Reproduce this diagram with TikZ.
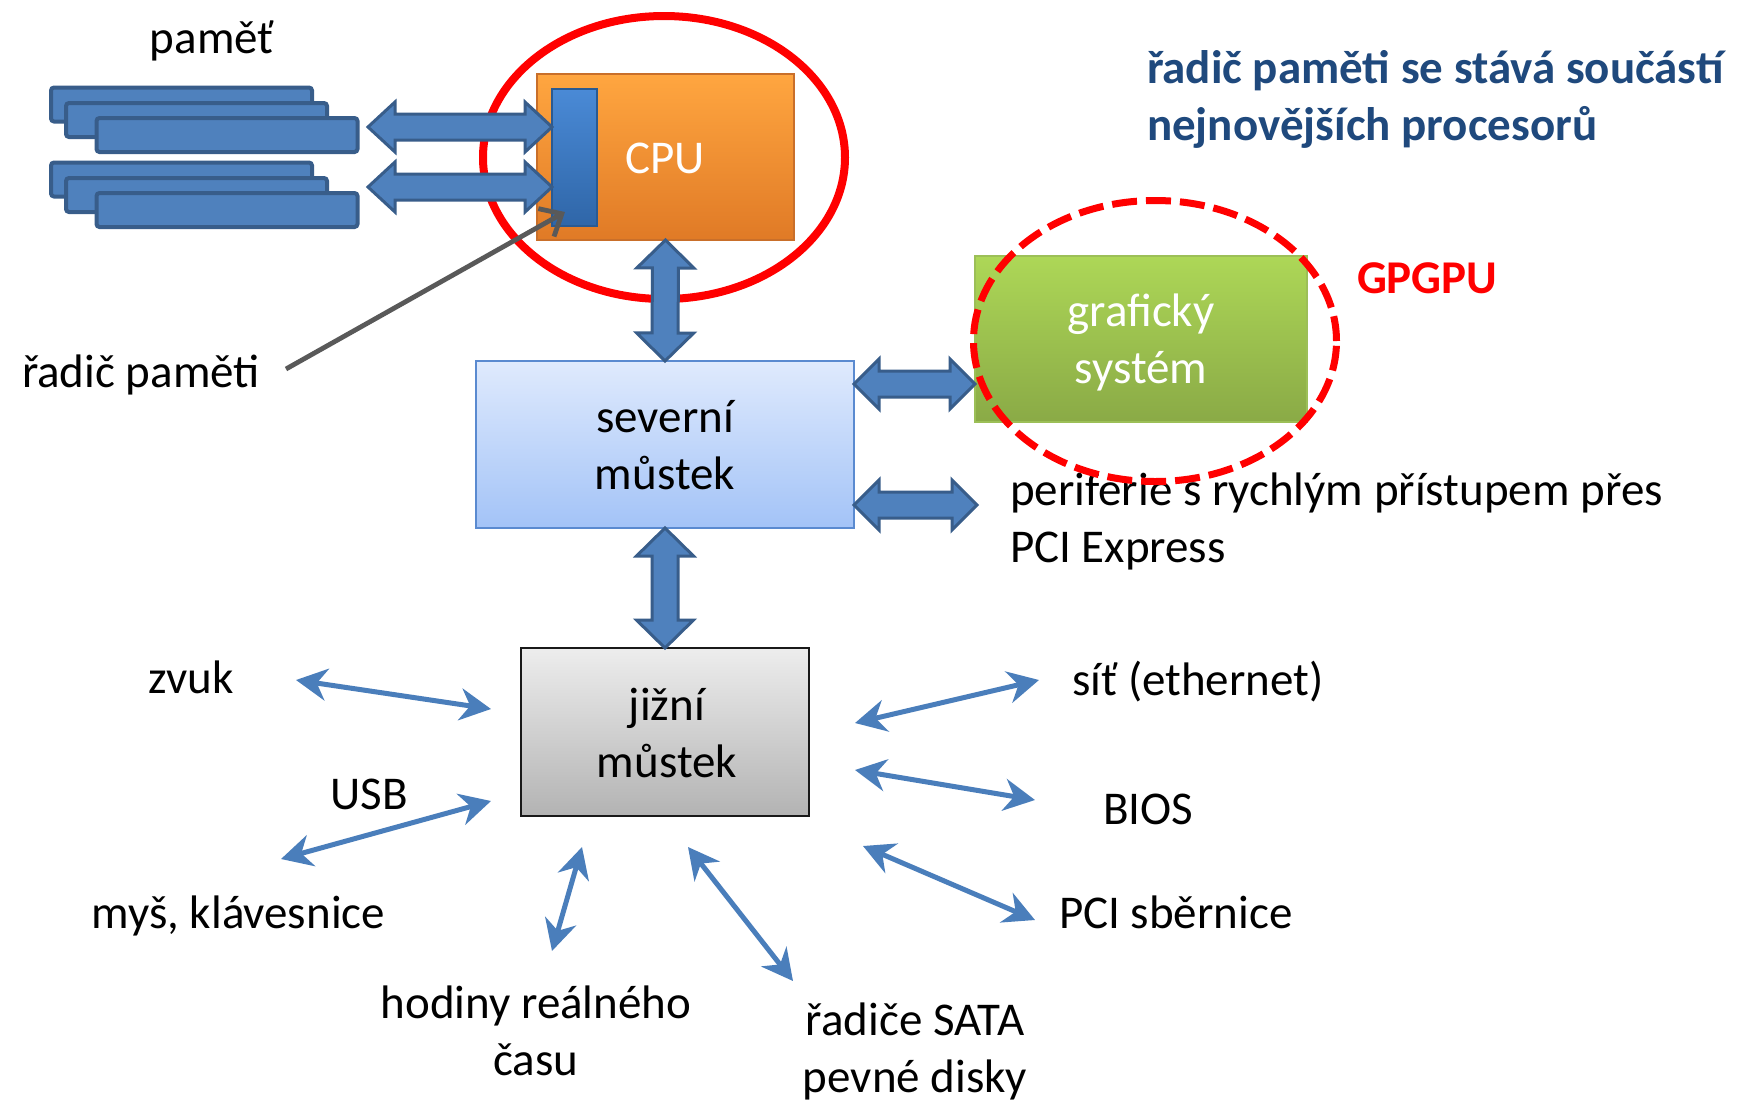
\documentclass[tikz,border=0pt]{standalone}
\usepackage{fontspec}
\setmainfont{Carlito}
\usetikzlibrary{arrows.meta,calc,shapes.geometric}
\definecolor{arrblue}{HTML}{4F81BD}
\definecolor{bordblue}{HTML}{385D8A}
\definecolor{thinblue}{HTML}{4A7EBB}
\definecolor{topblue}{HTML}{1F497D}
\definecolor{cputop}{HTML}{FFA640}
\definecolor{cpubot}{HTML}{E07A26}
\definecolor{cpuborder}{HTML}{C96F2A}
\definecolor{bartop}{HTML}{4A8AD6}
\definecolor{barbot}{HTML}{2F66A8}
\definecolor{barborder}{HTML}{2A5A92}
\definecolor{nbtop}{HTML}{DFEAFD}
\definecolor{nbbot}{HTML}{A3C3F7}
\definecolor{nbborder}{HTML}{5A8AD0}
\definecolor{sbtop}{HTML}{EDEDED}
\definecolor{sbbot}{HTML}{B3B3B3}
\definecolor{gstop}{HTML}{ADD757}
\definecolor{gsbot}{HTML}{8AAA46}
\definecolor{gsborder}{HTML}{9CBF57}
\definecolor{ptrgray}{HTML}{595959}
\newcommand{\bigf}{\fontsize{23.5pt}{28.5pt}\selectfont}
\newcommand{\myblk}[5]{%
 \path[blk] (#1)
 -- ($($(#1)!#3!(#2)$)!#4!90:(#2)$)
 -- ($($(#1)!#3!(#2)$)!#5!90:(#2)$)
 -- ($($(#2)!#3!(#1)$)!#5!-90:(#1)$)
 -- ($($(#2)!#3!(#1)$)!#4!-90:(#1)$)
 -- (#2)
 -- ($($(#2)!#3!(#1)$)!#4!90:(#1)$)
 -- ($($(#2)!#3!(#1)$)!#5!90:(#1)$)
 -- ($($(#1)!#3!(#2)$)!#5!-90:(#2)$)
 -- ($($(#1)!#3!(#2)$)!#4!-90:(#2)$)
 -- cycle;}
\begin{document}
\begin{tikzpicture}[x=0.5pt,y=-0.5pt,
  txt/.style={font=\bigf, inner sep=0pt, outer sep=0pt},
  btxt/.style={font=\bigf\bfseries, inner sep=0pt, outer sep=0pt},
  memmod/.style={draw=bordblue, fill=arrblue, line width=2pt, rounded corners=1.5pt, inner sep=0pt, minimum width=130.5pt, minimum height=17pt},
  blk/.style={draw=bordblue, fill=arrblue, line width=1.5pt, line join=miter},
  thinarr/.style={draw=thinblue, line width=2.5pt,
    {Stealth[length=15.5pt,width=16pt,inset=5pt]}-{Stealth[length=15.5pt,width=16pt,inset=5pt]}},
  ring/.style={ellipse, draw=red, inner sep=0pt},
  boxbase/.style={rectangle, inner sep=0pt, outer sep=0pt}
]
\useasboundingbox (0,0) rectangle (1742,1099);
\fill[white] (0,0) rectangle (1742,1099);

% red ring around CPU
\node[ring, line width=4pt, minimum width=181pt, minimum height=141.5pt] (ring1) at (664,157.5) {};

% memory modules
\node[memmod] (m1a) at (181.5,104.5) {};
\node[memmod] (m1b) at (196.5,120) {};
\node[memmod] (m1c) at (227,135) {};
\node[memmod] (m2a) at (181.5,179.5) {};
\node[memmod] (m2b) at (196.5,195) {};
\node[memmod] (m2c) at (227,210) {};

% CPU and controller bar
\node[boxbase, top color=cputop, bottom color=cpubot, draw=cpuborder, line width=0.6pt,
      minimum width=128.5pt, minimum height=83pt] (cpu) at (665.5,157) {};
\node[boxbase, top color=bartop, bottom color=barbot, draw=barborder, line width=0.8pt,
      minimum width=22.5pt, minimum height=68.5pt] (bar) at (574.5,157.5) {};

% bridges and graphics
\node[boxbase, top color=nbtop, bottom color=nbbot, draw=nbborder, line width=0.9pt,
      minimum width=189pt, minimum height=83.5pt] (nb) at (665,444.5) {};
\node[boxbase, top color=sbtop, bottom color=sbbot, draw=black!90, line width=1pt,
      minimum width=144pt, minimum height=84pt] (sb) at (665,732) {};
\node[boxbase, top color=gstop, bottom color=gsbot, draw=gsborder, line width=0.6pt,
      minimum width=166pt, minimum height=83pt] (gs) at (1141,339) {};

% block arrow end points
\coordinate (m1l) at (368,127);
\coordinate (m1r) at (bar.west |- m1l);
\coordinate (m2l) at (368,187);
\coordinate (m2r) at (bar.west |- m2l);
\coordinate (gsl) at (nb.east |- 0,384);
\coordinate (gsr) at (gs.west |- 0,384);
\coordinate (pel) at (nb.east |- 0,505);
\coordinate (per) at (977,505);

\myblk{m1l}{m1r}{13.5pt}{12.5pt}{6.5pt}
\myblk{m2l}{m2r}{13.5pt}{12.5pt}{6.5pt}
\myblk{cpu.south}{nb.north}{14pt}{14.25pt}{6.5pt}
\myblk{nb.south}{sb.north}{14pt}{14.25pt}{6.5pt}
\myblk{gsl}{gsr}{12.5pt}{12.5pt}{6.5pt}
\myblk{pel}{per}{12.5pt}{12.5pt}{6.5pt}

% pointer to memory controller
\coordinate (ptrs) at (286,369);
\coordinate (ptre) at (565,212);
\draw[ptrgray, line width=2.4pt, -{Straight Barb[length=9pt,width=16pt,line width=2.4pt]}] (ptrs) -- (ptre);

% thin arrows from south bridge
\coordinate (zv1) at (296,680);  \coordinate (zv2) at (491,709);
\coordinate (us1) at (491,801);  \coordinate (us2) at (281,859);
\coordinate (ho1) at (582,847);  \coordinate (ho2) at (552,951);
\coordinate (sa1) at (688,847);  \coordinate (sa2) at (793,981);
\coordinate (si1) at (855,723);  \coordinate (si2) at (1039,680);
\coordinate (bi1) at (855,770);  \coordinate (bi2) at (1035,800);
\coordinate (pc1) at (863,846);  \coordinate (pc2) at (1035,920);
\draw[thinarr] (zv1) -- (zv2);
\draw[thinarr] (us1) -- (us2);
\draw[thinarr] (ho1) -- (ho2);
\draw[thinarr] (sa1) -- (sa2);
\draw[thinarr] (si1) -- (si2);
\draw[thinarr] (bi1) -- (bi2);
\draw[thinarr] (pc1) -- (pc2);

% texts
\node[txt, anchor=base] (pamet) at (212,53) {paměť};
\node[txt, anchor=base west] (rplab) at (22,387) {řadič paměti};
\node[txt, anchor=base, text=white] (cputxt) at (665,173) {CPU};
\node[txt, anchor=base] (nbtxt) at (665,432) {\begin{tabular}[t]{@{}c@{}}severní\\můstek\end{tabular}};
\node[txt, anchor=base] (sbtxt) at (667,720) {\begin{tabular}[t]{@{}c@{}}jižní\\můstek\end{tabular}};
\node[txt, anchor=base, text=white] (gstxt) at (1141,326) {\begin{tabular}[t]{@{}c@{}}grafický\\systém\end{tabular}};
\node[btxt, anchor=base west, text=red] (gpgpu) at (1357,293) {GPGPU};
\node[btxt, anchor=base west, text=topblue] (title) at (1147,83) {\begin{tabular}[t]{@{}l@{}}řadič paměti se stává součástí\\nejnovějších procesorů\end{tabular}};
\node[txt, anchor=base west] (perif) at (1010,505) {\begin{tabular}[t]{@{}l@{}}periferie s rychlým přístupem přes\\PCI Express\end{tabular}};
\node[txt, anchor=base] (zvuk) at (191,693) {zvuk};
\node[txt, anchor=base] (usb) at (369,809) {USB};
\node[txt, anchor=base east] (mys) at (385,928) {myš, klávesnice};
\node[txt, anchor=base] (hod) at (536,1018) {\begin{tabular}[t]{@{}c@{}}hodiny reálného\\času\end{tabular}};
\node[txt, anchor=base] (sata) at (915,1035) {\begin{tabular}[t]{@{}c@{}}řadiče SATA\\pevné disky\end{tabular}};
\node[txt, anchor=base west] (sit) at (1072,695) {síť (ethernet)};
\node[txt, anchor=base west] (bios) at (1103,824) {BIOS};
\node[txt, anchor=base west] (pci) at (1059,928) {PCI sběrnice};

% dashed ring around graphics
\node[ring, line width=3.5pt, dash pattern=on 12.5pt off 4.5pt, minimum width=181.5pt, minimum height=140.5pt] (ring2) at (1155,341) {};
\end{tikzpicture}
\end{document}
